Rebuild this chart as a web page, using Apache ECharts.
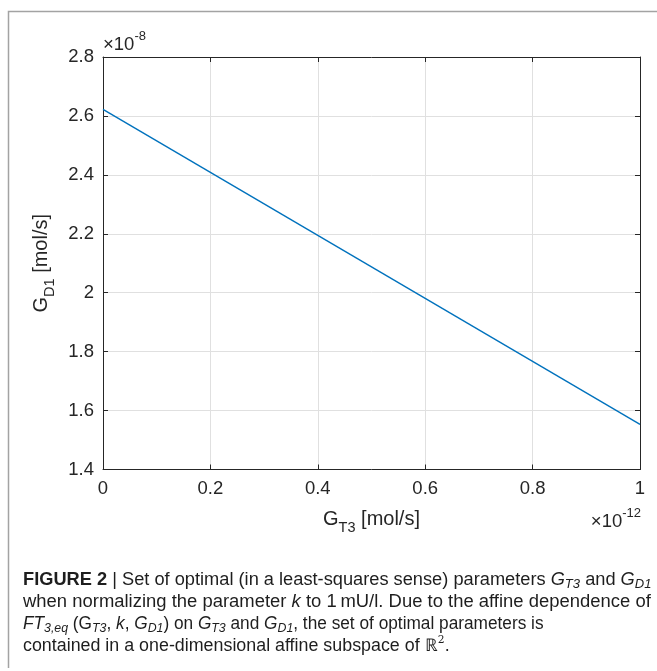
<!DOCTYPE html>
<html>
<head>
<meta charset="utf-8">
<script src="https://cdn.jsdelivr.net/npm/echarts@6/dist/echarts.min.js"></script>
<style>
  html, body { margin: 0; padding: 0; background: #ffffff; }
  #chart { width: 657px; height: 671px; }
</style>
</head>
<body>
<div id="chart"></div>
<script>
// G_T3 in units of 1e-12 mol/s, G_D1 in units of 1e-8 mol/s
const gT3 = [0, 1];
const gD1 = [2.622, 1.553];

// axis ranges and tick spacing (scaled units)
const xRange = [0, 1];
const xStep = 0.2;
const yRange = [1.4, 2.8];
const yStep = 0.2;

// power-of-ten multipliers shown at the axis ends
const xExponent = '-12';
const yExponent = '-8';

// figure caption, one entry per line (rich-text markup)
const captionLines = [
  '{b|FIGURE 2} | Set of optimal (in a least-squares sense) parameters {i|G}{isub|T3} and {i|G}{isub|D1}',
  'when normalizing the parameter {i|k} to 1\u2009mU/l. Due to the affine dependence of',
  '{i|FT}{isub|3,eq} (G{isub|T3}, {i|k}, {i|G}{isub|D1}) on {i|G}{isub|T3} and {i|G}{isub|D1}, the set of optimal parameters is',
  'contained in a one-dimensional affine subspace of \u211D{sup|2}.'
];

const FONT = '"Liberation Sans", Arial, Helvetica, sans-serif';
const INK = '#262626';
const TICK_SIZE = 18.5;
const NAME_SIZE = 20;
const CAP_SIZE = 17.5;
const CAP_INK = '#1e1e1e';
const CAP_LEFT = 23;
const CAP_TOP = 569;
const CAP_LINE = 22;
// horizontal condensing per caption line (the serif-less face runs a bit wide)
const CAP_SCALE = [1.042, 1.054, 0.986, 1.02];

const nameStyle = {
  fontFamily: FONT,
  fontSize: NAME_SIZE,
  color: INK,
  lineHeight: 32,
  rich: {
    sub: { fontFamily: FONT, fontSize: 14.5, lineHeight: 14, color: INK, verticalAlign: 'bottom' }
  }
};

const captionRich = {
  b: { fontFamily: FONT, fontSize: CAP_SIZE, fontWeight: 'bold', fill: CAP_INK },
  i: { fontFamily: FONT, fontSize: CAP_SIZE, fontStyle: 'italic', fill: CAP_INK },
  isub: { fontFamily: FONT, fontSize: 12.5, lineHeight: 12, fontStyle: 'italic', fill: CAP_INK, verticalAlign: 'bottom' },
  sup: { fontFamily: '"DejaVu Serif", serif', fontSize: 10.5, lineHeight: 10, fill: CAP_INK, verticalAlign: 'top' }
};

function boxAxis(range, step, pos) {
  return {
    type: 'value',
    position: pos,
    min: range[0],
    max: range[1],
    interval: step,
    axisLine: { show: true, onZero: false, lineStyle: { color: INK, width: 1 } },
    axisTick: { show: true, inside: true, length: 5, lineStyle: { color: INK, width: 1 } },
    axisLabel: { show: false },
    splitLine: { show: false }
  };
}

const captionGraphics = captionLines.map((line, k) => ({
  type: 'text',
  x: CAP_LEFT,
  y: CAP_TOP + k * CAP_LINE,
  scaleX: CAP_SCALE[k],
  silent: true,
  style: {
    text: line,
    fontFamily: FONT, fontSize: CAP_SIZE, fill: CAP_INK, lineHeight: CAP_LINE,
    align: 'left', verticalAlign: 'top',
    rich: captionRich
  }
}));

const chart = echarts.init(document.getElementById('chart'), null, { renderer: 'canvas' });

chart.setOption({
  animation: false,
  backgroundColor: '#ffffff',
  grid: {
    left: 103, right: 17, top: 57, bottom: 201.5,
    outerBoundsMode: 'none'
  },
  xAxis: [
    Object.assign(boxAxis(xRange, xStep, 'bottom'), {
      axisLabel: { show: true, margin: 10, fontFamily: FONT, fontSize: TICK_SIZE, color: INK },
      splitLine: { show: true, lineStyle: { color: '#e0e0e0', width: 1 } },
      name: 'G{sub|T3} [mol/s]',
      nameLocation: 'middle',
      nameGap: 28,
      nameTextStyle: nameStyle
    }),
    boxAxis(xRange, xStep, 'top')
  ],
  yAxis: [
    Object.assign(boxAxis(yRange, yStep, 'left'), {
      axisLabel: { show: true, margin: 9, fontFamily: FONT, fontSize: TICK_SIZE, color: INK },
      splitLine: { show: true, lineStyle: { color: '#e0e0e0', width: 1 } },
      name: 'G{sub|D1} [mol/s]',
      nameLocation: 'middle',
      nameGap: 46,
      nameTextStyle: nameStyle
    }),
    boxAxis(yRange, yStep, 'right')
  ],
  series: [{
    type: 'line',
    xAxisIndex: 0,
    yAxisIndex: 0,
    showSymbol: false,
    silent: true,
    lineStyle: { color: '#0072BD', width: 1.4 },
    data: gT3.map((x, i) => [x, gD1[i]])
  }],
  graphic: [
    // page frame (left and top edges)
    {
      type: 'polyline',
      silent: true,
      shape: { points: [[8.5, 668], [8.5, 11.5], [657, 11.5]] },
      style: { stroke: '#a3a3a3', lineWidth: 1.5, fill: null }
    },
    // y multiplier above the plot
    {
      type: 'text',
      x: 103, y: 30,
      silent: true,
      style: {
        text: '\u00D710{sup|' + yExponent + '}',
        fontFamily: FONT, fontSize: TICK_SIZE, fill: INK, lineHeight: 30,
        align: 'left', verticalAlign: 'top',
        rich: { sup: { fontFamily: FONT, fontSize: 13, lineHeight: 12, fill: INK, verticalAlign: 'top' } }
      }
    },
    // x multiplier below the right end of the axis
    {
      type: 'text',
      x: 641, y: 507,
      silent: true,
      style: {
        text: '\u00D710{sup|' + xExponent + '}',
        fontFamily: FONT, fontSize: TICK_SIZE, fill: INK, lineHeight: 30,
        align: 'right', verticalAlign: 'top',
        rich: { sup: { fontFamily: FONT, fontSize: 13, lineHeight: 12, fill: INK, verticalAlign: 'top' } }
      }
    }
  ].concat(captionGraphics)
});
</script>
</body>
</html>
